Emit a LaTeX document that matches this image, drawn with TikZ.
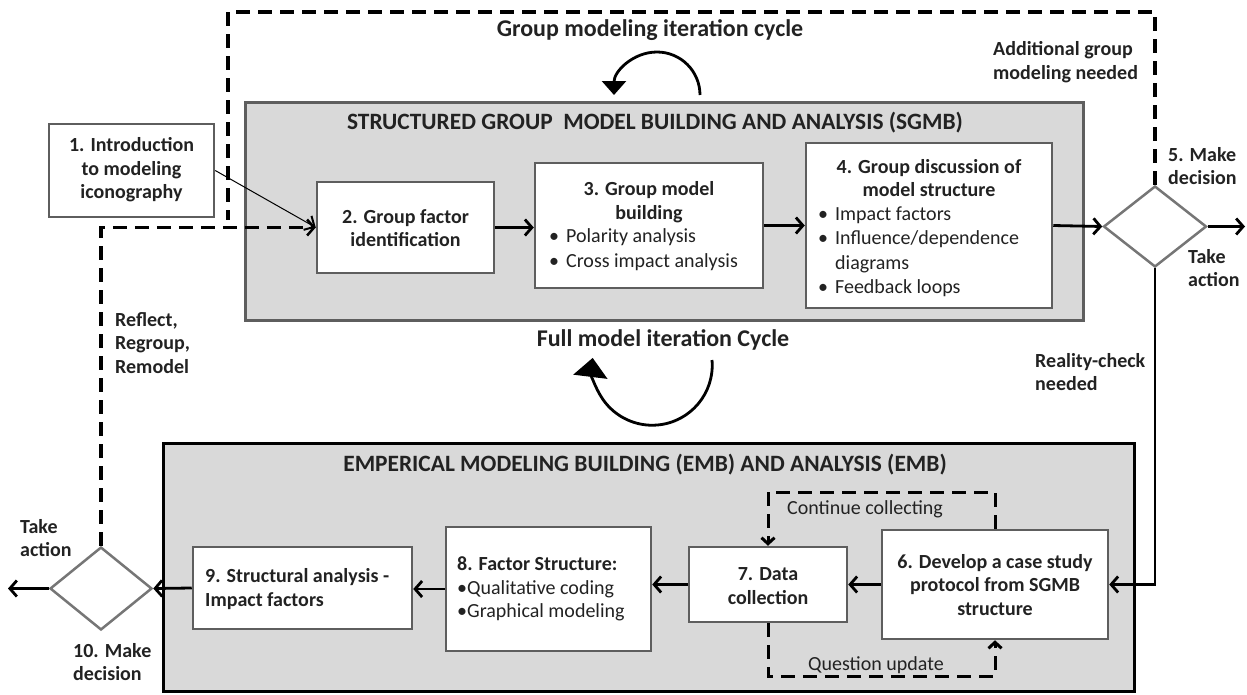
\documentclass[tikz,border=0pt]{standalone}
\usepackage{fontspec}
\setmainfont{Carlito}
\usetikzlibrary{arrows.meta,shapes.geometric}
\definecolor{panelfill}{HTML}{D9D9D9}
\definecolor{boxline}{HTML}{5E5E5E}
\definecolor{ink}{HTML}{222222}
\begin{document}
\begin{tikzpicture}[x=1pt,y=-1pt,
  panel/.style={draw=boxline, line width=3pt, fill=panelfill, inner sep=0pt},
  blackpanel/.style={panel, draw=black},
  stepbox/.style={draw=boxline, line width=2.5pt, fill=white, inner sep=0pt},
  decide/.style={diamond, draw=boxline!85, line width=2.5pt, fill=white, inner sep=0pt},
  lbl/.style={text=ink, inner sep=0pt, font=\fontsize{20}{23.5}\selectfont\bfseries},
  plain/.style={text=ink, inner sep=0pt, font=\fontsize{20}{24.5}\selectfont},
  head/.style={text=ink, inner sep=0pt, font=\fontsize{23.4}{26}\selectfont\bfseries},
  cyclbl/.style={text=ink, inner sep=0pt, font=\fontsize{24}{28}\selectfont\bfseries},
  conn/.style={line width=2.8pt, -{Straight Barb[length=7pt,width=16pt]}},
  thinconn/.style={line width=1pt, -{Straight Barb[length=8pt,width=16pt,line width=2pt]}},
  dconn/.style={line width=3.5pt, dash pattern=on 14pt off 8pt},
  cycle/.style={line width=2.8pt}
]
\useasboundingbox (0,0) rectangle (1247,694);

% ---------- SGMB panel ----------
\node[panel, minimum width=838pt, minimum height=218pt] (sgmb) at (664,211) {};
\node[head] (sgmbtitle) at (655,123) {STRUCTURED GROUP\ \ MODEL BUILDING AND ANALYSIS (SGMB)};

\node[stepbox, minimum width=165pt, minimum height=93pt] (b1) at (131.5,170.5) {};
\node[lbl, align=center] (t1) at (131.5,170) {1. Introduction\\to modeling\\iconography};

\node[stepbox, minimum width=177pt, minimum height=91pt] (b2) at (405.5,227.5) {};
\node[lbl, align=center] (t2) at (405.5,228) {2. Group factor\\identification};

\node[stepbox, minimum width=228pt, minimum height=125pt] (b3) at (649,225.5) {};
\node[lbl, align=center] (t3) at (649,202) {3. Group model\\building};
\node[plain, anchor=west] (t3b) at (549,250) {%
  \begin{tabular}{@{}l@{\hspace{7pt}}l@{}}
  \textbullet & Polarity analysis\\
  \textbullet & Cross impact analysis
  \end{tabular}};

\node[stepbox, minimum width=246pt, minimum height=165pt] (b4) at (929,225.5) {};
\node[lbl, align=center] (t4) at (929,178) {4. Group discussion of\\model structure};
\node[plain, anchor=west] (t4b) at (818,252) {%
  \begin{tabular}{@{}l@{\hspace{7pt}}l@{}}
  \textbullet & Impact factors\\
  \textbullet & Influence/dependence\\
              & diagrams\\
  \textbullet & Feedback loops
  \end{tabular}};

\node[decide, minimum width=103pt, minimum height=81pt] (d5) at (1155,226.5) {};
\coordinate (outR) at (1245,226.5);

% ---------- EMB panel ----------
\node[blackpanel, minimum width=971pt, minimum height=248pt] (emb) at (648.5,567) {};
\node[head] (embtitle) at (645,465) {EMPERICAL MODELING BUILDING (EMB) AND ANALYSIS (EMB)};

\node[stepbox, minimum width=226pt, minimum height=109pt] (b6) at (995,584.5) {};
\node[lbl, align=center] (t6) at (995,585) {6. Develop a case study\\protocol from SGMB\\structure};

\node[stepbox, minimum width=158pt, minimum height=75pt] (b7) at (768,584.5) {};
\node[lbl, align=center] (t7) at (768,586) {7. Data\\collection};

\node[stepbox, minimum width=205pt, minimum height=124pt] (b8) at (548.5,589) {};
\node[lbl, anchor=west, align=left] (t8) at (457,589) {8. Factor Structure:\\
  {\mdseries\textbullet Qualitative coding}\\{\mdseries\textbullet Graphical modeling}};

\node[stepbox, minimum width=219pt, minimum height=82pt] (b9) at (302.5,588) {};
\node[lbl, anchor=west, align=left] (t9) at (205,589) {9. Structural analysis -\\Impact factors};

\node[decide, minimum width=102pt, minimum height=83pt] (d10) at (101,588.5) {};
\coordinate (outL) at (8,588.5);

% ---------- solid connectors ----------
\draw[thinconn] (b1.east) -- (b2.west);
\draw[conn] (b2.east) -- (b2.east -| b3.west);
\draw[conn] (b3.east) -- (b3.east -| b4.west);
\draw[conn] (b4.east) -- (d5.west);
\draw[conn] (d5.east) -- (outR);
\draw[conn] (d5.south) |- (b6.east);
\draw[conn] (b6.west) -- (b6.west -| b7.east);
\draw[conn] (b7.west) -- (b7.west -| b8.east);
\draw[conn] (b8.west) -- (b8.west -| b9.east);
\draw[conn] (b9.west) -- (d10.east);
\draw[conn] (d10.west) -- (outL);

% ---------- dashed loops ----------
\coordinate (loopTR) at (1155,12);
\coordinate (loopTL) at (228,12);
\coordinate (loopJoin) at (228,220);
\draw[dconn] (d5.north) -- (loopTR) -- (loopTL) -- (loopJoin);
\draw[dconn, -{Straight Barb[length=7pt,width=16pt,line width=2.5pt]}] (d10.north) |- (b2.west);

\coordinate (cc) at (880,492);
\coordinate (qu) at (880,676);
\draw[dconn, line width=3pt, -{Straight Barb[length=6pt,width=13pt]}] (b6.north) |- (cc) -| (b7.north);
\draw[dconn, line width=3pt, -{Straight Barb[length=6pt,width=13pt]}] (b7.south) |- (qu) -| (b6.south);

% ---------- iteration cycles ----------
\draw[cycle, -{Triangle[length=14pt,width=24pt]}] (700,95) arc[start angle=0, end angle=-180, radius=43];
\draw[cycle, -{Triangle[length=19pt,width=34pt]}] (712,360) arc[start angle=-5, end angle=187, radius=60];

% ---------- labels ----------
\node[cyclbl] (lgroup) at (650,30) {Group modeling iteration cycle};
\node[cyclbl] (lfull) at (663,340) {Full model iteration Cycle};
\node[lbl, anchor=west, align=left] (ladd) at (993,62) {Additional group\\modeling needed};
\node[lbl, anchor=west, align=left] (l5) at (1168,166) {5. Make\\decision};
\node[lbl, anchor=west, align=left] (ltake5) at (1188,268) {Take\\action};
\node[lbl, anchor=west, align=left] (lreal) at (1035,372) {Reality-check\\needed};
\node[lbl, anchor=west, align=left] (lreflect) at (115,343) {Reflect,\\Regroup,\\Remodel};
\node[lbl, anchor=west, align=left] (ltake10) at (20,538) {Take\\action};
\node[lbl, anchor=west, align=left] (l10) at (73,662) {10. Make\\decision};
\node[plain, anchor=west] (lcont) at (787,509) {Continue collecting};
\node[plain, anchor=west] (lques) at (808,665) {Question update};
\end{tikzpicture}
\end{document}
